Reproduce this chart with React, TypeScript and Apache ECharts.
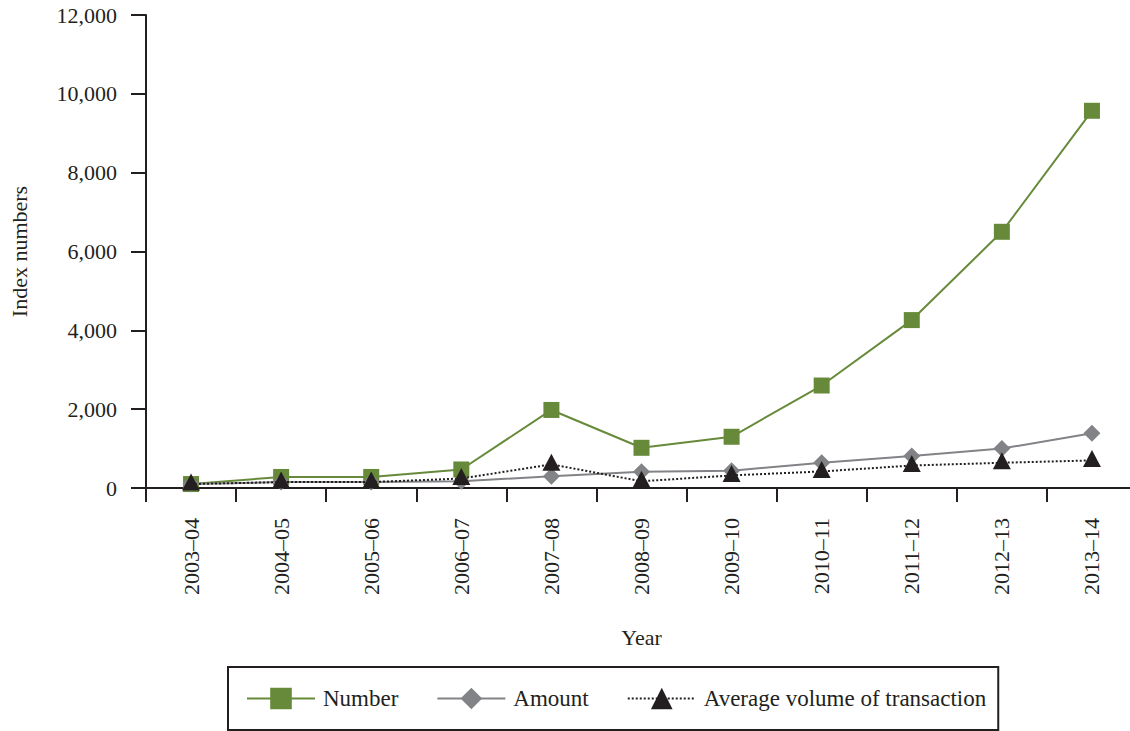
import React, { useEffect, useRef } from "react";
import * as echarts from "echarts";

const categories = ["2003–04", "2004–05", "2005–06", "2006–07", "2007–08", "2008–09", "2009–10", "2010–11", "2011–12", "2012–13", "2013–14"];
const numberValues = [100, 280, 280, 470, 1980, 1020, 1300, 2600, 4260, 6500, 9570];
const amountValues = [100, 150, 150, 170, 300, 410, 440, 640, 810, 1000, 1390];
const averageValues = [100, 150, 150, 240, 600, 170, 320, 420, 570, 640, 700];
const yTicks = [0, 2000, 4000, 6000, 8000, 10000, 12000];

const FONT = "'Liberation Serif', 'DejaVu Serif', serif";
const INK = "#231f20";
const GREEN = "#678a3a";
const GRAY = "#828386";

export default function App() {
  const ref = useRef<HTMLDivElement>(null);
  useEffect(() => {
    if (!ref.current) return;
    const chart = echarts.init(ref.current, null, { renderer: "svg" });
    chart.setOption({
      animation: false,
      backgroundColor: "#ffffff",
      textStyle: { fontFamily: FONT, color: INK },
      grid: {
        left: 146,
        top: 15,
        right: -7,
        bottom: 243,
        containLabel: false,
        outerBoundsMode: "none",
      },
      legend: {
        left: 228,
        top: 667,
        orient: "horizontal",
        padding: [20, 12, 20, 18],
        itemWidth: 68,
        itemHeight: 27,
        itemGap: 38,
        borderColor: INK,
        borderWidth: 2,
        textStyle: { fontFamily: FONT, fontSize: 23, color: INK, padding: [0, 0, 0, 3] },
        data: [
          { name: "Number" },
          { name: "Amount", textStyle: { padding: [0, 14, 0, 3] } },
          { name: "Average volume of transaction" },
        ],
      },
      xAxis: {
        type: "category",
        data: categories,
        boundaryGap: true,
        name: "Year",
        nameLocation: "middle",
        nameGap: 138,
        nameTextStyle: { fontFamily: FONT, fontSize: 22, color: INK },
        axisLine: { show: true, lineStyle: { color: INK, width: 2 } },
        axisTick: { show: true, length: 14, lineStyle: { color: INK, width: 2 } },
        axisLabel: { rotate: 90, margin: 30, fontFamily: FONT, fontSize: 22, color: INK },
        splitLine: { show: false },
      },
      yAxis: {
        type: "value",
        min: yTicks[0],
        max: yTicks[yTicks.length - 1],
        interval: yTicks[1] - yTicks[0],
        name: "Index numbers",
        nameLocation: "middle",
        nameRotate: 90,
        nameGap: 116,
        nameTextStyle: { fontFamily: FONT, fontSize: 22, color: INK },
        axisLine: { show: true, lineStyle: { color: INK, width: 2 } },
        axisTick: { show: true, length: 15, lineStyle: { color: INK, width: 2 } },
        axisLabel: {
          margin: 29,
          fontFamily: FONT,
          fontSize: 22,
          color: INK,
          formatter: (v: number) => v.toLocaleString("en-US"),
        },
        splitLine: { show: false },
      },
      series: [
        {
          name: "Number",
          type: "line",
          data: numberValues,
          symbol: "rect",
          symbolSize: 16,
          itemStyle: { color: GREEN },
          lineStyle: { color: GREEN, width: 2 },
          z: 2,
        },
        {
          name: "Amount",
          type: "line",
          data: amountValues,
          symbol: "diamond",
          symbolSize: 17,
          itemStyle: { color: GRAY },
          lineStyle: { color: GRAY, width: 2 },
          z: 3,
        },
        {
          name: "Average volume of transaction",
          type: "line",
          data: averageValues,
          symbol: "triangle",
          symbolSize: [18, 17],
          symbolOffset: [0, -2],
          itemStyle: { color: INK },
          lineStyle: { color: INK, width: 2, type: [2, 2] },
          z: 4,
        },
      ],
    });
    return () => chart.dispose();
  }, []);
  return (
    <div
      ref={ref}
      style={{ position: "fixed", left: 0, top: 0, width: 1130, height: 731, background: "#fff" }}
    />
  );
}
